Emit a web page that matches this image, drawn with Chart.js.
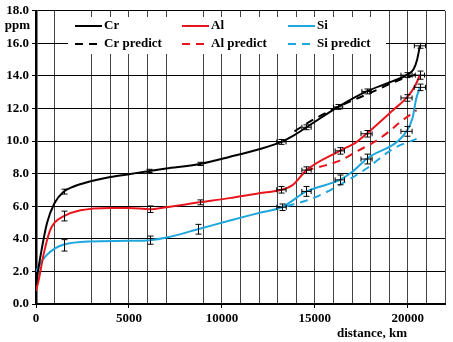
<!DOCTYPE html>
<html>
<head>
<meta charset="utf-8">
<script src="https://cdn.jsdelivr.net/npm/chart.js@4.4.1/dist/chart.umd.min.js"></script>
<style>
  body { margin: 0; background: #fff; }
  #wrap { width: 453px; height: 342px; }
</style>
</head>
<body>
<div id="wrap"><canvas id="myChart" width="453" height="342"></canvas></div>
<script>
// ------------------   DATA   ----------------
const crDist = [0, 250, 600, 1000, 1500, 2000, 3000, 4000, 5000, 6100, 7000, 8800, 10400, 12000, 13200, 13800, 14550, 16250, 17780, 19000, 19930, 20300, 20500, 20650];
const crPpm = [1.2, 3.0, 5.0, 6.2, 6.9, 7.2, 7.55, 7.8, 7.97, 8.17, 8.32, 8.6, 9.03, 9.5, 9.95, 10.3, 10.85, 12.1, 13.05, 13.6, 14.05, 14.4, 15.0, 15.85];

const crPredDist = [13900, 14730, 16160, 17960, 19750, 20500];
const crPredPpm = [10.6, 11.2, 12.05, 12.95, 13.85, 14.1];

const alDist = [0, 150, 400, 750, 1000, 1500, 2400, 4000, 5000, 6130, 7000, 8800, 10400, 12000, 13200, 13800, 14550, 16340, 17240, 17780, 19200, 19930, 20380, 20650];
const alPpm = [0.8, 1.5, 3.0, 4.5, 5.0, 5.4, 5.75, 5.9, 5.9, 5.82, 5.94, 6.24, 6.5, 6.8, 7.01, 7.3, 8.22, 9.4, 9.94, 10.45, 11.9, 12.65, 13.37, 14.05];

const alPredDist = [14500, 15200, 16340, 17300, 18130, 19000, 19570, 20470];
const alPredPpm = [8.2, 8.4, 8.8, 9.4, 9.9, 10.6, 11.15, 11.9];

const siDist = [0, 300, 570, 1000, 1500, 2900, 4950, 6130, 7030, 8710, 10430, 12040, 13210, 14550, 16340, 17000, 17780, 19930, 20250, 20450, 20650];
const siPpm = [2.0, 2.6, 3.0, 3.4, 3.65, 3.84, 3.88, 3.92, 4.08, 4.59, 5.13, 5.6, 5.94, 6.91, 7.62, 8.1, 8.9, 10.6, 11.4, 12.6, 13.3];

const siPredDist = [13480, 14910, 16340, 17780, 19210, 20470];
const siPredPpm = [6.0, 6.5, 7.31, 8.32, 9.53, 10.14];

// measured points with error bars
const crErrDist = [1500, 6100, 8800, 13200, 14550, 16250, 17780, 19930, 20650];
const crErrPpm = [6.9, 8.17, 8.6, 9.95, 10.85, 12.1, 13.05, 14.05, 15.85];
const crErrY = [0.15, 0.1, 0.1, 0.15, 0.15, 0.15, 0.15, 0.15, 0.15];
const crErrX = [0, 0, 0, 250, 250, 250, 250, 300, 300];

const alErrDist = [1500, 6130, 8800, 13200, 14550, 16340, 17780, 19930, 20650];
const alErrPpm = [5.4, 5.82, 6.24, 7.01, 8.22, 9.4, 10.45, 12.65, 14.05];
const alErrY = [0.3, 0.2, 0.15, 0.2, 0.2, 0.2, 0.2, 0.2, 0.25];
const alErrX = [0, 0, 0, 250, 250, 250, 300, 300, 250];

const siErrDist = [1500, 6130, 8710, 13210, 14550, 16340, 17780, 19930, 20650];
const siErrPpm = [3.6, 3.92, 4.59, 5.94, 6.91, 7.62, 8.9, 10.6, 13.3];
const siErrY = [0.35, 0.25, 0.3, 0.2, 0.3, 0.3, 0.3, 0.3, 0.2];
const siErrX = [0, 0, 0, 250, 250, 250, 300, 300, 300];

const legendRow1 = ['Cr', 'Al', 'Si'];
const legendRow2 = ['Cr predict', 'Al predict', 'Si predict'];
const seriesColors = ['#000000', '#e8161c', '#1ea7dc'];

const yLabel = 'ppm';
const xLabel = 'distance, km';

// ------------   FUNCTIONS   ----------------------
const FONT = "'Liberation Serif', 'Times New Roman', serif";

function toPoints(xs, ys) {
  return xs.map((x, i) => ({ x: x, y: ys[i] }));
}

function lineSet(label, xs, ys, color, dashed) {
  return {
    label: label,
    data: toPoints(xs, ys),
    borderColor: color,
    backgroundColor: color,
    borderWidth: 2,
    borderDash: dashed ? [8, 6] : [],
    pointRadius: 0,
    cubicInterpolationMode: 'monotone',
    fill: false,
  };
}

const errorSets = [
  { dist: crErrDist, ppm: crErrPpm, ey: crErrY, ex: crErrX },
  { dist: alErrDist, ppm: alErrPpm, ey: alErrY, ex: alErrX },
  { dist: siErrDist, ppm: siErrPpm, ey: siErrY, ex: siErrX },
];

const errorBarPlugin = {
  id: 'errorBars',
  afterDatasetsDraw(chart) {
    const { ctx } = chart;
    const xs = chart.scales.x;
    const ys = chart.scales.y;
    ctx.save();
    ctx.strokeStyle = '#000';
    ctx.lineWidth = 1;
    errorSets.forEach((set) => {
      set.dist.forEach((d, i) => {
        const px = Math.round(xs.getPixelForValue(d)) + 0.5;
        const py = ys.getPixelForValue(set.ppm[i]);
        const top = ys.getPixelForValue(set.ppm[i] + set.ey[i]);
        const bot = ys.getPixelForValue(set.ppm[i] - set.ey[i]);
        ctx.beginPath();
        ctx.moveTo(px, top);
        ctx.lineTo(px, bot);
        ctx.moveTo(px - 3, top);
        ctx.lineTo(px + 3, top);
        ctx.moveTo(px - 3, bot);
        ctx.lineTo(px + 3, bot);
        if (set.ex[i] > 0) {
          const l = xs.getPixelForValue(d - set.ex[i]);
          const r = xs.getPixelForValue(d + set.ex[i]);
          ctx.moveTo(l, py);
          ctx.lineTo(r, py);
          ctx.moveTo(l, py - 2.5);
          ctx.lineTo(l, py + 2.5);
          ctx.moveTo(r, py - 2.5);
          ctx.lineTo(r, py + 2.5);
        }
        ctx.stroke();
      });
    });
    ctx.restore();
  },
};

const legendPlugin = {
  id: 'boxLegend',
  beforeDatasetsDraw(chart) {
    const { ctx } = chart;
    ctx.save();
    ctx.fillStyle = '#fff';
    ctx.fillRect(68, 17, 318, 37);
    const cols = [75, 182, 288];
    ctx.font = 'bold 13px ' + FONT;
    ctx.textBaseline = 'middle';
    ctx.lineWidth = 2;
    [legendRow1, legendRow2].forEach((row, r) => {
      const yy = r === 0 ? 26 : 44;
      row.forEach((txt, c) => {
        ctx.strokeStyle = seriesColors[c];
        ctx.setLineDash(r === 0 ? [] : [8, 6]);
        ctx.beginPath();
        ctx.moveTo(cols[c], yy);
        ctx.lineTo(cols[c] + 27, yy);
        ctx.stroke();
        ctx.fillStyle = '#000';
        ctx.fillText(txt, cols[c] + 29, yy);
      });
    });
    ctx.restore();
  },
  afterDraw(chart) {
    const { ctx } = chart;
    ctx.save();
    ctx.fillStyle = '#000';
    ctx.font = 'bold 13px ' + FONT;
    ctx.textBaseline = 'middle';
    ctx.textAlign = 'right';
    ctx.fillText(yLabel, 30, 26);
    ctx.textAlign = 'center';
    ctx.fillText(xLabel, 372, 334);
    ctx.restore();
  },
};

function renderChart() {
  const ctx = document.getElementById('myChart').getContext('2d');
  new Chart(ctx, {
    type: 'line',
    data: {
      datasets: [
        lineSet('Cr', crDist, crPpm, seriesColors[0], false),
        lineSet('Al', alDist, alPpm, seriesColors[1], false),
        lineSet('Si', siDist, siPpm, seriesColors[2], false),
        lineSet('Cr predict', crPredDist, crPredPpm, seriesColors[0], true),
        lineSet('Al predict', alPredDist, alPredPpm, seriesColors[1], true),
        lineSet('Si predict', siPredDist, siPredPpm, seriesColors[2], true),
      ],
    },
    options: {
      responsive: false,
      animation: false,
      layout: { padding: { top: 7, right: 8, left: 0, bottom: 0 } },
      plugins: { legend: { display: false }, tooltip: { enabled: false } },
      scales: {
        x: {
          type: 'linear',
          min: 0,
          max: 22000,
          afterFit(scale) { scale.height = 38; },
          border: { color: '#000', width: 2 },
          grid: {
            color: (c) => ([2000, 8000].includes(c.tick.value) ? 'rgba(0,0,0,0)' : '#444'),
            lineWidth: 1,
            tickLength: 4,
            tickColor: (c) => (c.tick.value % 5000 === 0 ? '#000' : 'rgba(0,0,0,0)'),
          },
          ticks: {
            stepSize: 1000,
            autoSkip: false,
            maxRotation: 0,
            padding: 3,
            color: '#000',
            font: { family: FONT, weight: 'bold', size: 13 },
            callback: (v) => (v % 5000 === 0 ? String(v) : ''),
          },
        },
        y: {
          min: 0,
          max: 18,
          afterFit(scale) { scale.width = 36; },
          border: { color: '#000', width: 2.5 },
          grid: { color: '#000', lineWidth: 1, tickLength: 4, tickColor: '#000' },
          ticks: {
            stepSize: 2,
            padding: 3,
            color: '#000',
            font: { family: FONT, weight: 'bold', size: 13 },
            callback: (v) => v.toFixed(1),
          },
        },
      },
    },
    plugins: [legendPlugin, errorBarPlugin],
  });
}

// ------------ function calls ---------------------
renderChart();
</script>
</body>
</html>
